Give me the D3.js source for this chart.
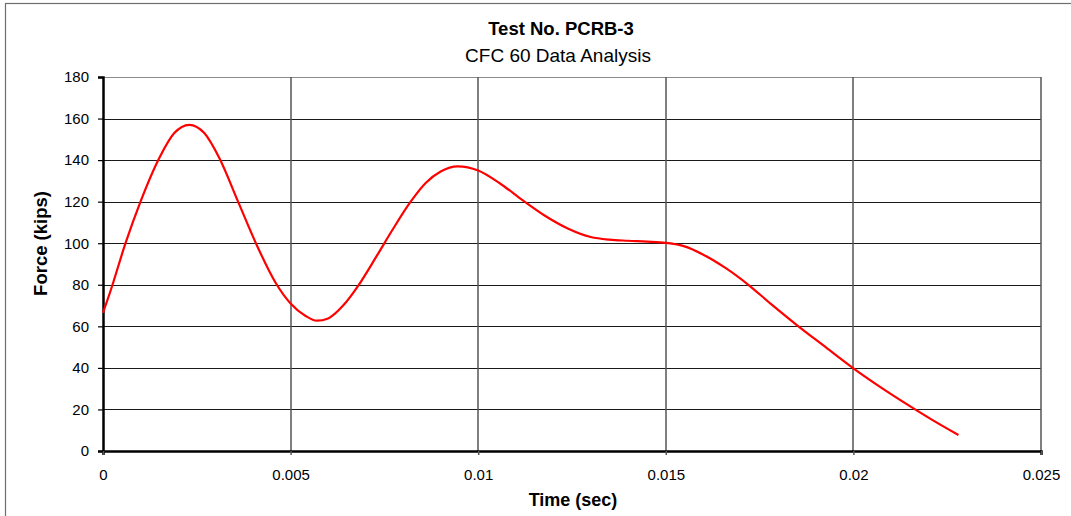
<!DOCTYPE html>
<html>
<head>
<meta charset="utf-8">
<script src="https://cdn.jsdelivr.net/npm/d3@7"></script>
<style>
  body { margin: 0; background: #fff; }
  text { font-family: "Liberation Sans", Arial, sans-serif; fill: #000; }
</style>
</head>
<body>
<svg id="chart" width="1071" height="516"></svg>
<script>
// data
let time_sec = [0, 0.0002, 0.0006, 0.001, 0.0015, 0.0019, 0.0023, 0.0027, 0.0031, 0.0036,
    0.0041, 0.0046, 0.005, 0.0054, 0.0057, 0.006, 0.0064, 0.0068, 0.0073, 0.0077,
    0.0082, 0.0086, 0.009, 0.00945, 0.01, 0.0106, 0.0112, 0.0118, 0.0124, 0.013,
    0.0135, 0.014, 0.0145, 0.015, 0.0155, 0.016, 0.0166, 0.0172, 0.0178, 0.0185,
    0.0192, 0.02, 0.0207, 0.0214, 0.0221, 0.0228]
let force_kips = [66.5, 77, 100, 120, 141, 153, 157, 153, 141, 120,
    99, 81, 71, 65, 62.7, 63.8, 70, 79.5, 94, 106,
    120, 129, 134.5, 137, 135, 128.5, 120.5, 113, 107, 103,
    101.7, 101.2, 100.8, 100.2, 98.5, 94.5, 88, 80, 70.8, 60.5,
    50.8, 39.8, 31, 22.8, 15, 7.7]
let x_ticks = [0, 0.005, 0.01, 0.015, 0.02, 0.025]
let y_ticks = [0, 20, 40, 60, 80, 100, 120, 140, 160, 180]
let x_tick_labels = ["0", "0.005", "0.01", "0.015", "0.02", "0.025"]

let svg = d3.select("#chart")
let plot_left = 103, plot_right = 1041, plot_top = 77, plot_bottom = 451

// outer chart frame
svg.append("rect")
    .attr("x", 5.5).attr("y", 3.5)
    .attr("width", 1080).attr("height", 530)
    .attr("fill", "none").attr("stroke", "#6e6e6e").attr("stroke-width", 1.2)

let x = d3.scaleLinear().domain([0, 0.025]).range([plot_left, plot_right])
let y = d3.scaleLinear().domain([0, 180]).range([plot_bottom, plot_top])

// horizontal grid
svg.append("g").selectAll("line")
    .data(y_ticks.filter(d => d > 0))
    .join("line")
    .attr("x1", plot_left).attr("x2", plot_right)
    .attr("y1", d => Math.round(y(d)) + 0.5).attr("y2", d => Math.round(y(d)) + 0.5)
    .attr("stroke", d => d == 180 ? "#8c8c8c" : "#1a1a1a")
    .attr("stroke-width", d => d == 180 ? 1 : 1.2)

// vertical grid
svg.append("g").selectAll("line")
    .data(x_ticks.filter(d => d > 0))
    .join("line")
    .attr("x1", d => Math.round(x(d))).attr("x2", d => Math.round(x(d)))
    .attr("y1", plot_top).attr("y2", plot_bottom)
    .attr("stroke", "#555").attr("stroke-width", 1.5)

// axes
let yAxis = svg.append("g")
    .attr("transform", `translate(${plot_left},0)`)
    .call(d3.axisLeft(y).tickValues(y_ticks).tickSize(5).tickPadding(9))
yAxis.select(".domain").attr("stroke", "#000").attr("stroke-width", 2.5)
yAxis.selectAll(".tick line").attr("stroke", "#000").attr("stroke-width", 1.2)
yAxis.selectAll("text").attr("font-size", 15).attr("font-family", "Liberation Sans, Arial, sans-serif")

let xAxis = svg.append("g")
    .attr("transform", `translate(0,${plot_bottom})`)
    .call(d3.axisBottom(x).tickValues(x_ticks).tickFormat((d, i) => x_tick_labels[i]).tickSize(4).tickPadding(14))
xAxis.select(".domain").attr("stroke", "#000").attr("stroke-width", 2.5)
xAxis.selectAll(".tick line").attr("stroke", "#555").attr("stroke-width", 1.5)
xAxis.selectAll("text").attr("font-size", 15).attr("font-family", "Liberation Sans, Arial, sans-serif")

// force curve
let line = d3.line()
    .x((d, i) => x(time_sec[i]))
    .y(d => y(d))
    .curve(d3.curveMonotoneX)
svg.append("path")
    .attr("d", line(force_kips))
    .attr("fill", "none")
    .attr("stroke", "#ff0000")
    .attr("stroke-width", 2.2)

// titles
svg.append("text")
    .attr("x", 561).attr("y", 35)
    .attr("text-anchor", "middle")
    .attr("font-size", 18.5).attr("font-weight", "bold")
    .text("Test No. PCRB-3")
svg.append("text")
    .attr("x", 558).attr("y", 62)
    .attr("text-anchor", "middle")
    .attr("font-size", 19)
    .text("CFC 60 Data Analysis")
svg.append("text")
    .attr("x", 573).attr("y", 506)
    .attr("text-anchor", "middle")
    .attr("font-size", 18).attr("font-weight", "bold")
    .text("Time (sec)")
svg.append("text")
    .attr("transform", "translate(47,243.5) rotate(-90)")
    .attr("text-anchor", "middle")
    .attr("font-size", 18.5).attr("font-weight", "bold")
    .text("Force (kips)")
</script>
</body>
</html>
